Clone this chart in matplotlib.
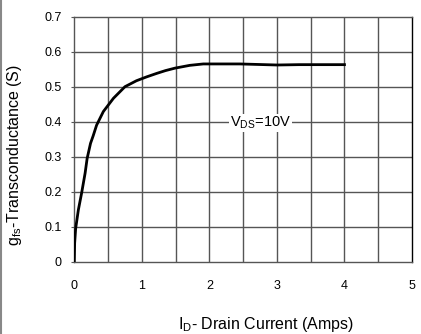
import numpy as np
import matplotlib
matplotlib.use("Agg")
import matplotlib.pyplot as plt
from matplotlib.lines import Line2D

plt.rcParams["font.family"] = ["Liberation Sans", "DejaVu Sans"]
plt.rcParams["mathtext.fontset"] = "custom"
plt.rcParams["mathtext.rm"] = "Liberation Sans"

# -----------------------------------------------------------------------
# Datos
# -----------------------------------------------------------------------

id_amps = [0.0, 0.005, 0.02, 0.06, 0.11, 0.16, 0.19, 0.24, 0.28, 0.33,
           0.43, 0.58, 0.75, 0.92, 1.07, 1.22, 1.35, 1.49, 1.71, 1.91,
           2.15, 2.45, 3.0, 3.33, 4.0]
gfs     = [0.0, 0.053, 0.095, 0.148, 0.198, 0.253, 0.295, 0.338, 0.36, 0.39,
           0.429, 0.467, 0.50, 0.517, 0.528, 0.538, 0.546, 0.553, 0.561, 0.565,
           0.565, 0.565, 0.562, 0.563, 0.563]

x_ticks  = [0, 1, 2, 3, 4, 5]
y_ticks  = [0, 0.1, 0.2, 0.3, 0.4, 0.5, 0.6, 0.7]
y_labels = ["0", "0.1", "0.2", "0.3", "0.4", "0.5", "0.6", "0.7"]

# -----------------------------------------------------------------------
# Figura
# -----------------------------------------------------------------------

fig = plt.figure(figsize=(4.21, 3.34), dpi=100)
ax = fig.add_axes([0.1765, 0.2165, 0.8021, 0.7335])

grid_col = "#555555"
for xv in np.arange(0.5, 5.0, 0.5):
    ax.axvline(xv, color=grid_col, linewidth=1.0, zorder=1)
for yv in y_ticks[1:-1]:
    ax.axhline(yv, color=grid_col, linewidth=1.0, zorder=1)

ax.plot(id_amps, gfs, color="black", linewidth=2.0, zorder=3,
        solid_joinstyle="round")

ax.set_xlim(0, 5)
ax.set_ylim(0, 0.7)
ax.set_xticks(x_ticks)
ax.set_yticks(y_ticks)
ax.set_yticklabels(y_labels)
ax.tick_params(axis="x", length=0, pad=13, labelsize=9)
ax.tick_params(axis="y", length=2, pad=7, labelsize=9, color=grid_col)
for side in ["left", "right", "top", "bottom"]:
    ax.spines[side].set_color(grid_col)
    ax.spines[side].set_linewidth(1.0)
ax.spines["right"].set_color("black")

ax.text(2.76, 0.397, r"V$\mathregular{_{DS}}$=10V", fontsize=10.5,
        ha="center", va="center", zorder=4,
        bbox=dict(facecolor="white", edgecolor="none", pad=0.5))

fig.text(265.5 / 421, 1 - 324 / 334,
         r"I$\mathregular{_D}$- Drain Current (Amps)",
         ha="center", va="center", fontsize=11.5)
fig.text(15 / 421, 1 - 155 / 334,
         r"g$\mathregular{_{fs}}$-Transconductance (S)",
         ha="center", va="center", rotation=90, fontsize=11.5)

fig.add_artist(Line2D([0.003, 0.003], [0, 1], color="#888888",
                      linewidth=1.5, transform=fig.transFigure))

plt.savefig("out.png", dpi=100)
plt.close()
